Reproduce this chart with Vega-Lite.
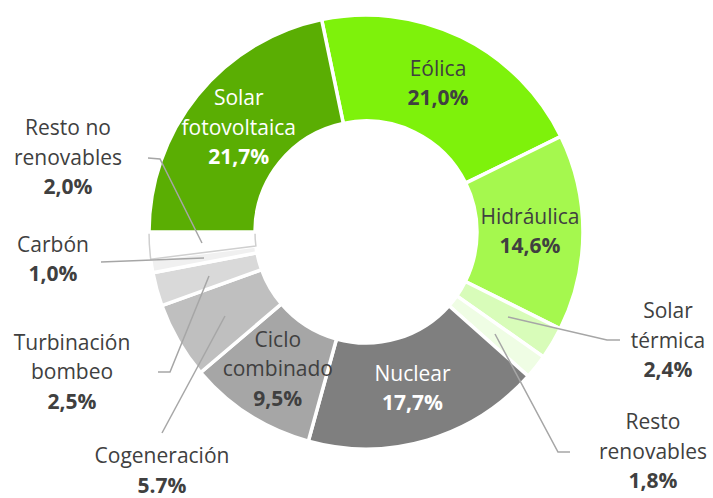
{
  "$schema": "https://vega.github.io/schema/vega-lite/v6.json",
  "width": 713,
  "height": 498,
  "autosize": {"type": "none"},
  "padding": 0,
  "background": "white",
  "config": {"view": {"stroke": null}, "font": "Open Sans"},
  "datasets": {
    "shares": [
      {"idx": 0, "cat": "Eólica", "value": 21.0, "label": "Eólica", "pct": "21,0%"},
      {"idx": 1, "cat": "Hidráulica", "value": 14.6, "label": "Hidráulica", "pct": "14,6%"},
      {"idx": 2, "cat": "Solar térmica", "value": 2.4, "label": "Solar\ntérmica", "pct": "2,4%"},
      {"idx": 3, "cat": "Resto renovables", "value": 1.8, "label": "Resto\nrenovables", "pct": "1,8%"},
      {"idx": 4, "cat": "Nuclear", "value": 17.7, "label": "Nuclear", "pct": "17,7%"},
      {"idx": 5, "cat": "Ciclo combinado", "value": 9.5, "label": "Ciclo\ncombinado", "pct": "9,5%"},
      {"idx": 6, "cat": "Cogeneración", "value": 5.7, "label": "Cogeneración", "pct": "5.7%"},
      {"idx": 7, "cat": "Turbinación bombeo", "value": 2.5, "label": "Turbinación\nbombeo", "pct": "2,5%"},
      {"idx": 8, "cat": "Carbón", "value": 1.0, "label": "Carbón", "pct": "1,0%"},
      {"idx": 9, "cat": "Resto no renovables", "value": 2.0, "label": "Resto no\nrenovables", "pct": "2,0%"},
      {"idx": 10, "cat": "Solar fotovoltaica", "value": 21.7, "label": "Solar\nfotovoltaica", "pct": "21,7%"}
    ],
    "callouts": [
      {"cat": "Resto no renovables", "u": -1.3733, "v": 0.3364},
      {"cat": "Carbón", "u": -1.4424, "v": -0.1313},
      {"cat": "Turbinación bombeo", "u": -1.3548, "v": -0.6498},
      {"cat": "Cogeneración", "u": -0.9401, "v": -1.1060},
      {"cat": "Solar térmica", "u": 1.3917, "v": -0.5069},
      {"cat": "Resto renovables", "u": 1.3226, "v": -1.0184}
    ],
    "leaders": [
      {"cat": "Resto no renovables", "ord": 0, "u": -1.0046, "v": 0.3410},
      {"cat": "Resto no renovables", "ord": 1, "u": -0.9493, "v": 0.3364},
      {"cat": "Resto no renovables", "ord": 2, "u": -0.7558, "v": -0.0507},
      {"cat": "Carbón", "ord": 0, "u": -1.2212, "v": -0.1382},
      {"cat": "Carbón", "ord": 1, "u": -0.7465, "v": -0.1198},
      {"cat": "Turbinación bombeo", "ord": 0, "u": -0.9585, "v": -0.6452},
      {"cat": "Turbinación bombeo", "ord": 1, "u": -0.9032, "v": -0.6452},
      {"cat": "Turbinación bombeo", "ord": 2, "u": -0.7235, "v": -0.2028},
      {"cat": "Cogeneración", "ord": 0, "u": -0.9401, "v": -0.9263},
      {"cat": "Cogeneración", "ord": 1, "u": -0.6498, "v": -0.3871},
      {"cat": "Solar térmica", "ord": 0, "u": 0.6544, "v": -0.3917},
      {"cat": "Solar térmica", "ord": 1, "u": 1.1106, "v": -0.4977},
      {"cat": "Solar térmica", "ord": 2, "u": 1.1705, "v": -0.4977},
      {"cat": "Resto renovables", "ord": 0, "u": 0.5945, "v": -0.4700},
      {"cat": "Resto renovables", "ord": 1, "u": 0.8848, "v": -1.0138},
      {"cat": "Resto renovables", "ord": 2, "u": 0.9401, "v": -1.0138}
    ]
  },
  "layer": [
    {
      "data": {"name": "shares"},
      "mark": {"type": "arc", "innerRadius": 111, "outerRadius": 217},
      "encoding": {
        "x": {"datum": 0, "type": "quantitative", "scale": {"domain": [-1.6866, 1.5991], "nice": false, "zero": false}, "axis": null},
        "y": {"datum": 0, "type": "quantitative", "scale": {"domain": [-1.2258, 1.0691], "nice": false, "zero": false}, "axis": null},
        "theta": {"field": "value", "type": "quantitative", "stack": true, "scale": {"range": [-0.2059, 6.0773]}},
        "order": {"field": "idx", "type": "quantitative"},
        "color": {
          "field": "cat", "type": "nominal", "legend": null,
          "scale": {
            "domain": ["Eólica", "Hidráulica", "Solar térmica", "Resto renovables", "Nuclear", "Ciclo combinado", "Cogeneración", "Turbinación bombeo", "Carbón", "Resto no renovables", "Solar fotovoltaica"],
            "range": ["#7ef20b", "#a5f84e", "#d8fcb9", "#effde4", "#7f7f7f", "#a6a6a6", "#bfbfbf", "#d9d9d9", "#f0f0f0", "#ffffff", "#5aae03"]
          }
        },
        "stroke": {"condition": {"test": "datum.cat === 'Resto no renovables'", "value": "#cfcfcf"}, "value": "white"},
        "strokeWidth": {"condition": {"test": "datum.cat === 'Resto no renovables'", "value": 1.5}, "value": 3.5}
      }
    },
    {
      "data": {"name": "leaders"},
      "mark": {"type": "line", "color": "#a6a6a6", "strokeWidth": 1.5},
      "encoding": {
        "x": {"field": "u", "type": "quantitative", "scale": {"domain": [-1.6866, 1.5991], "nice": false, "zero": false}, "axis": null},
        "y": {"field": "v", "type": "quantitative", "scale": {"domain": [-1.2258, 1.0691], "nice": false, "zero": false}, "axis": null},
        "detail": {"field": "cat", "type": "nominal"},
        "order": {"field": "ord", "type": "quantitative"}
      }
    },
    {
      "data": {"name": "shares"},
      "transform": [
        {"calculate": "indexof(datum.label, '\\n') >= 0", "as": "two"},
        {"calculate": "datum.value < 9 ? '' : (datum.two ? substring(datum.label, 0, indexof(datum.label, '\\n')) : '')", "as": "s0"},
        {"calculate": "datum.value < 9 ? '' : (datum.two ? '' : datum.label)", "as": "s1"},
        {"calculate": "datum.value < 9 ? '' : (datum.two ? substring(datum.label, indexof(datum.label, '\\n') + 1) : '')", "as": "s2"},
        {"calculate": "datum.value < 9 ? '' : (datum.two ? '' : datum.pct)", "as": "s3"},
        {"calculate": "datum.value < 9 ? '' : (datum.two ? datum.pct : '')", "as": "s4"}
      ],
      "encoding": {
        "x": {"datum": 0, "type": "quantitative", "scale": {"domain": [-1.6866, 1.5991], "nice": false, "zero": false}, "axis": null},
        "y": {"datum": 0, "type": "quantitative", "scale": {"domain": [-1.2258, 1.0691], "nice": false, "zero": false}, "axis": null},
        "theta": {"field": "value", "type": "quantitative", "stack": true, "scale": {"range": [-0.2059, 6.0773]}},
        "order": {"field": "idx", "type": "quantitative"},
        "color": {"condition": {"test": "datum.cat === 'Solar fotovoltaica' || datum.cat === 'Nuclear'", "value": "#ffffff"}, "value": "#404040"}
      },
      "layer": [
        {"mark": {"type": "text", "radius": 164, "fontSize": 21, "dy": -29.5, "align": "center", "baseline": "middle"}, "encoding": {"text": {"field": "s0", "type": "nominal"}}},
        {"mark": {"type": "text", "radius": 164, "fontSize": 21, "dy": -14.75, "align": "center", "baseline": "middle"}, "encoding": {"text": {"field": "s1", "type": "nominal"}}},
        {"mark": {"type": "text", "radius": 164, "fontSize": 21, "dy": 0, "align": "center", "baseline": "middle"}, "encoding": {"text": {"field": "s2", "type": "nominal"}}},
        {"mark": {"type": "text", "radius": 164, "fontSize": 21, "dy": 14.75, "align": "center", "baseline": "middle", "fontWeight": "bold"}, "encoding": {"text": {"field": "s3", "type": "nominal"}}},
        {"mark": {"type": "text", "radius": 164, "fontSize": 21, "dy": 29.5, "align": "center", "baseline": "middle", "fontWeight": "bold"}, "encoding": {"text": {"field": "s4", "type": "nominal"}}}
      ]
    },
    {
      "data": {"name": "shares"},
      "transform": [
        {"filter": "datum.value < 9"},
        {"lookup": "cat", "from": {"data": {"name": "callouts"}, "key": "cat", "fields": ["u", "v"]}},
        {"calculate": "indexof(datum.label, '\\n') >= 0", "as": "two"},
        {"calculate": "datum.two ? substring(datum.label, 0, indexof(datum.label, '\\n')) : ''", "as": "s0"},
        {"calculate": "datum.two ? '' : datum.label", "as": "s1"},
        {"calculate": "datum.two ? substring(datum.label, indexof(datum.label, '\\n') + 1) : ''", "as": "s2"},
        {"calculate": "datum.two ? '' : datum.pct", "as": "s3"},
        {"calculate": "datum.two ? datum.pct : ''", "as": "s4"}
      ],
      "encoding": {
        "x": {"field": "u", "type": "quantitative", "scale": {"domain": [-1.6866, 1.5991], "nice": false, "zero": false}, "axis": null},
        "y": {"field": "v", "type": "quantitative", "scale": {"domain": [-1.2258, 1.0691], "nice": false, "zero": false}, "axis": null},
        "color": {"value": "#404040"}
      },
      "layer": [
        {"mark": {"type": "text", "fontSize": 21, "dy": -29.5, "align": "center", "baseline": "middle"}, "encoding": {"text": {"field": "s0", "type": "nominal"}}},
        {"mark": {"type": "text", "fontSize": 21, "dy": -14.75, "align": "center", "baseline": "middle"}, "encoding": {"text": {"field": "s1", "type": "nominal"}}},
        {"mark": {"type": "text", "fontSize": 21, "dy": 0, "align": "center", "baseline": "middle"}, "encoding": {"text": {"field": "s2", "type": "nominal"}}},
        {"mark": {"type": "text", "fontSize": 21, "dy": 14.75, "align": "center", "baseline": "middle", "fontWeight": "bold"}, "encoding": {"text": {"field": "s3", "type": "nominal"}}},
        {"mark": {"type": "text", "fontSize": 21, "dy": 29.5, "align": "center", "baseline": "middle", "fontWeight": "bold"}, "encoding": {"text": {"field": "s4", "type": "nominal"}}}
      ]
    }
  ]
}
